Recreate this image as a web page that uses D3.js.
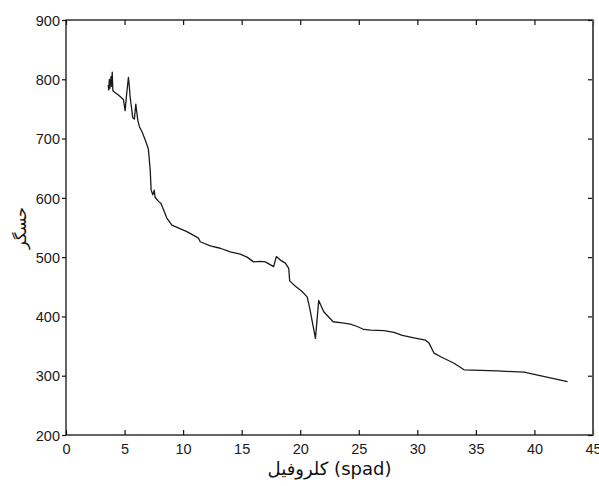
<!DOCTYPE html>
<html>
<head>
<meta charset="utf-8">
<script src="https://cdn.jsdelivr.net/npm/d3@7"></script>
<style>
  html, body { margin: 0; padding: 0; background: #fff; }
  svg { display: block; }
  .tick-label { font-family: "Liberation Sans", Arial, sans-serif; font-size: 14.5px; fill: #1a1a1a; }
</style>
</head>
<body>
<svg id="chart" width="599" height="486"></svg>
<script>
// Chlorophyll reading (SPAD units) along the x axis
const chlorophyll = [3.6,3.65,3.7,3.75,3.8,3.85,3.9,3.95,4.0,4.1,
  4.5,4.9,5.05,5.15,5.33,5.4,5.47,5.62,5.7,5.84,
  5.96,6.13,6.27,6.48,6.76,6.99,7.04,7.19,7.27,7.41,
  7.53,7.61,7.9,8.1,8.33,8.61,9.04,10.32,11.32,11.46,
  12.32,13.17,14.03,14.88,15.46,16.02,16.6,17.02,17.73,17.96,
  18.3,18.73,19.02,19.1,19.59,20.16,20.59,20.81,21.3,21.58,
  22.01,22.81,23.58,24.29,24.87,25.43,26.0,27.14,28.0,28.72,
  29.71,30.71,31.0,31.43,32.0,33.13,33.99,36.84,39.12,40.27,
  42.83];

// Sensor output at each chlorophyll reading
const sensor = [790,782,800,785,795,805,788,812,781,779,
  773,766,747,770,803,790,771,748,735,733,
  758,731,720,712,698,685,681,647,613,605,
  613,601,594,591,580,566,554,543,532,526,
  519,515,509,505,500,492,493,492,484,501,
  495,490,481,460,451,442,433,414,363,427,
  408,391,389,387,383,378,377,376,373,368,
  364,360,355,338,332,321,310,308,306,301,
  290];

const xTicks = [0,5,10,15,20,25,30,35,40,45];
const yTicks = [200,300,400,500,600,700,800,900];
const xLabel = "كلروفيل (spad)";
const yLabel = "حسگر";

const svg = d3.select("#chart");
const plotLeft = 66, plotRight = 593, plotTop = 20, plotBottom = 435;

const x = d3.scaleLinear().domain([0, 45]).range([plotLeft, plotRight]);
const y = d3.scaleLinear().domain([200, 900]).range([plotBottom, plotTop]);

const tickLen = 5;

// Bottom axis: ticks point inward, labels below
const gB = svg.append("g").attr("transform", `translate(0,${plotBottom})`)
  .call(d3.axisBottom(x).tickValues(xTicks).tickSizeInner(-tickLen).tickSizeOuter(0).tickPadding(6));
// Top axis: inward ticks, no labels
const gT = svg.append("g").attr("transform", `translate(0,${plotTop})`)
  .call(d3.axisTop(x).tickValues(xTicks).tickSizeInner(-tickLen).tickSizeOuter(0).tickFormat(""));
// Left axis: labels on the left
const gL = svg.append("g").attr("transform", `translate(${plotLeft},0)`)
  .call(d3.axisLeft(y).tickValues(yTicks).tickSizeInner(4).tickSizeOuter(0).tickPadding(2));
// Right axis: inward ticks, no labels
const gR = svg.append("g").attr("transform", `translate(${plotRight},0)`)
  .call(d3.axisRight(y).tickValues(yTicks).tickSizeInner(-tickLen).tickSizeOuter(0).tickFormat(""));

[gB, gT, gL, gR].forEach(g => {
  g.select(".domain").remove();
  g.selectAll(".tick line").attr("stroke", "#111").attr("stroke-width", 1.2);
  g.selectAll(".tick text").attr("class", "tick-label").attr("font-size", null).attr("font-family", null);
});
gB.selectAll(".tick text").attr("dy", "0.9em");
gL.selectAll(".tick text").attr("dy", "0.36em");

// Axes box
svg.append("rect")
  .attr("x", plotLeft).attr("y", plotTop)
  .attr("width", plotRight - plotLeft).attr("height", plotBottom - plotTop)
  .attr("fill", "none").attr("stroke", "#111").attr("stroke-width", 1.3);
svg.append("line")
  .attr("x1", plotRight).attr("x2", plotRight).attr("y1", plotTop).attr("y2", plotBottom)
  .attr("stroke", "#555").attr("stroke-width", 2);

// Data line
const pts = chlorophyll.map((c, i) => [c, sensor[i]]);
svg.append("path")
  .datum(pts)
  .attr("fill", "none")
  .attr("stroke", "#1a1a1a")
  .attr("stroke-width", 1.3)
  .attr("stroke-linejoin", "round")
  .attr("d", d3.line().x(d => x(d[0])).y(d => y(d[1])));

// Axis titles
svg.append("text")
  .attr("x", (plotLeft + plotRight) / 2).attr("y", 475)
  .attr("text-anchor", "middle")
  .attr("direction", "ltr")
  .attr("font-family", "'DejaVu Sans', 'Liberation Sans', sans-serif")
  .attr("font-size", 18)
  .attr("fill", "#111")
  .text(xLabel);

svg.append("text")
  .attr("transform", `translate(26,228) rotate(-90)`)
  .attr("text-anchor", "middle")
  .attr("font-family", "'DejaVu Sans', sans-serif")
  .attr("font-size", 16)
  .attr("fill", "#111")
  .text(yLabel);
</script>
</body>
</html>
